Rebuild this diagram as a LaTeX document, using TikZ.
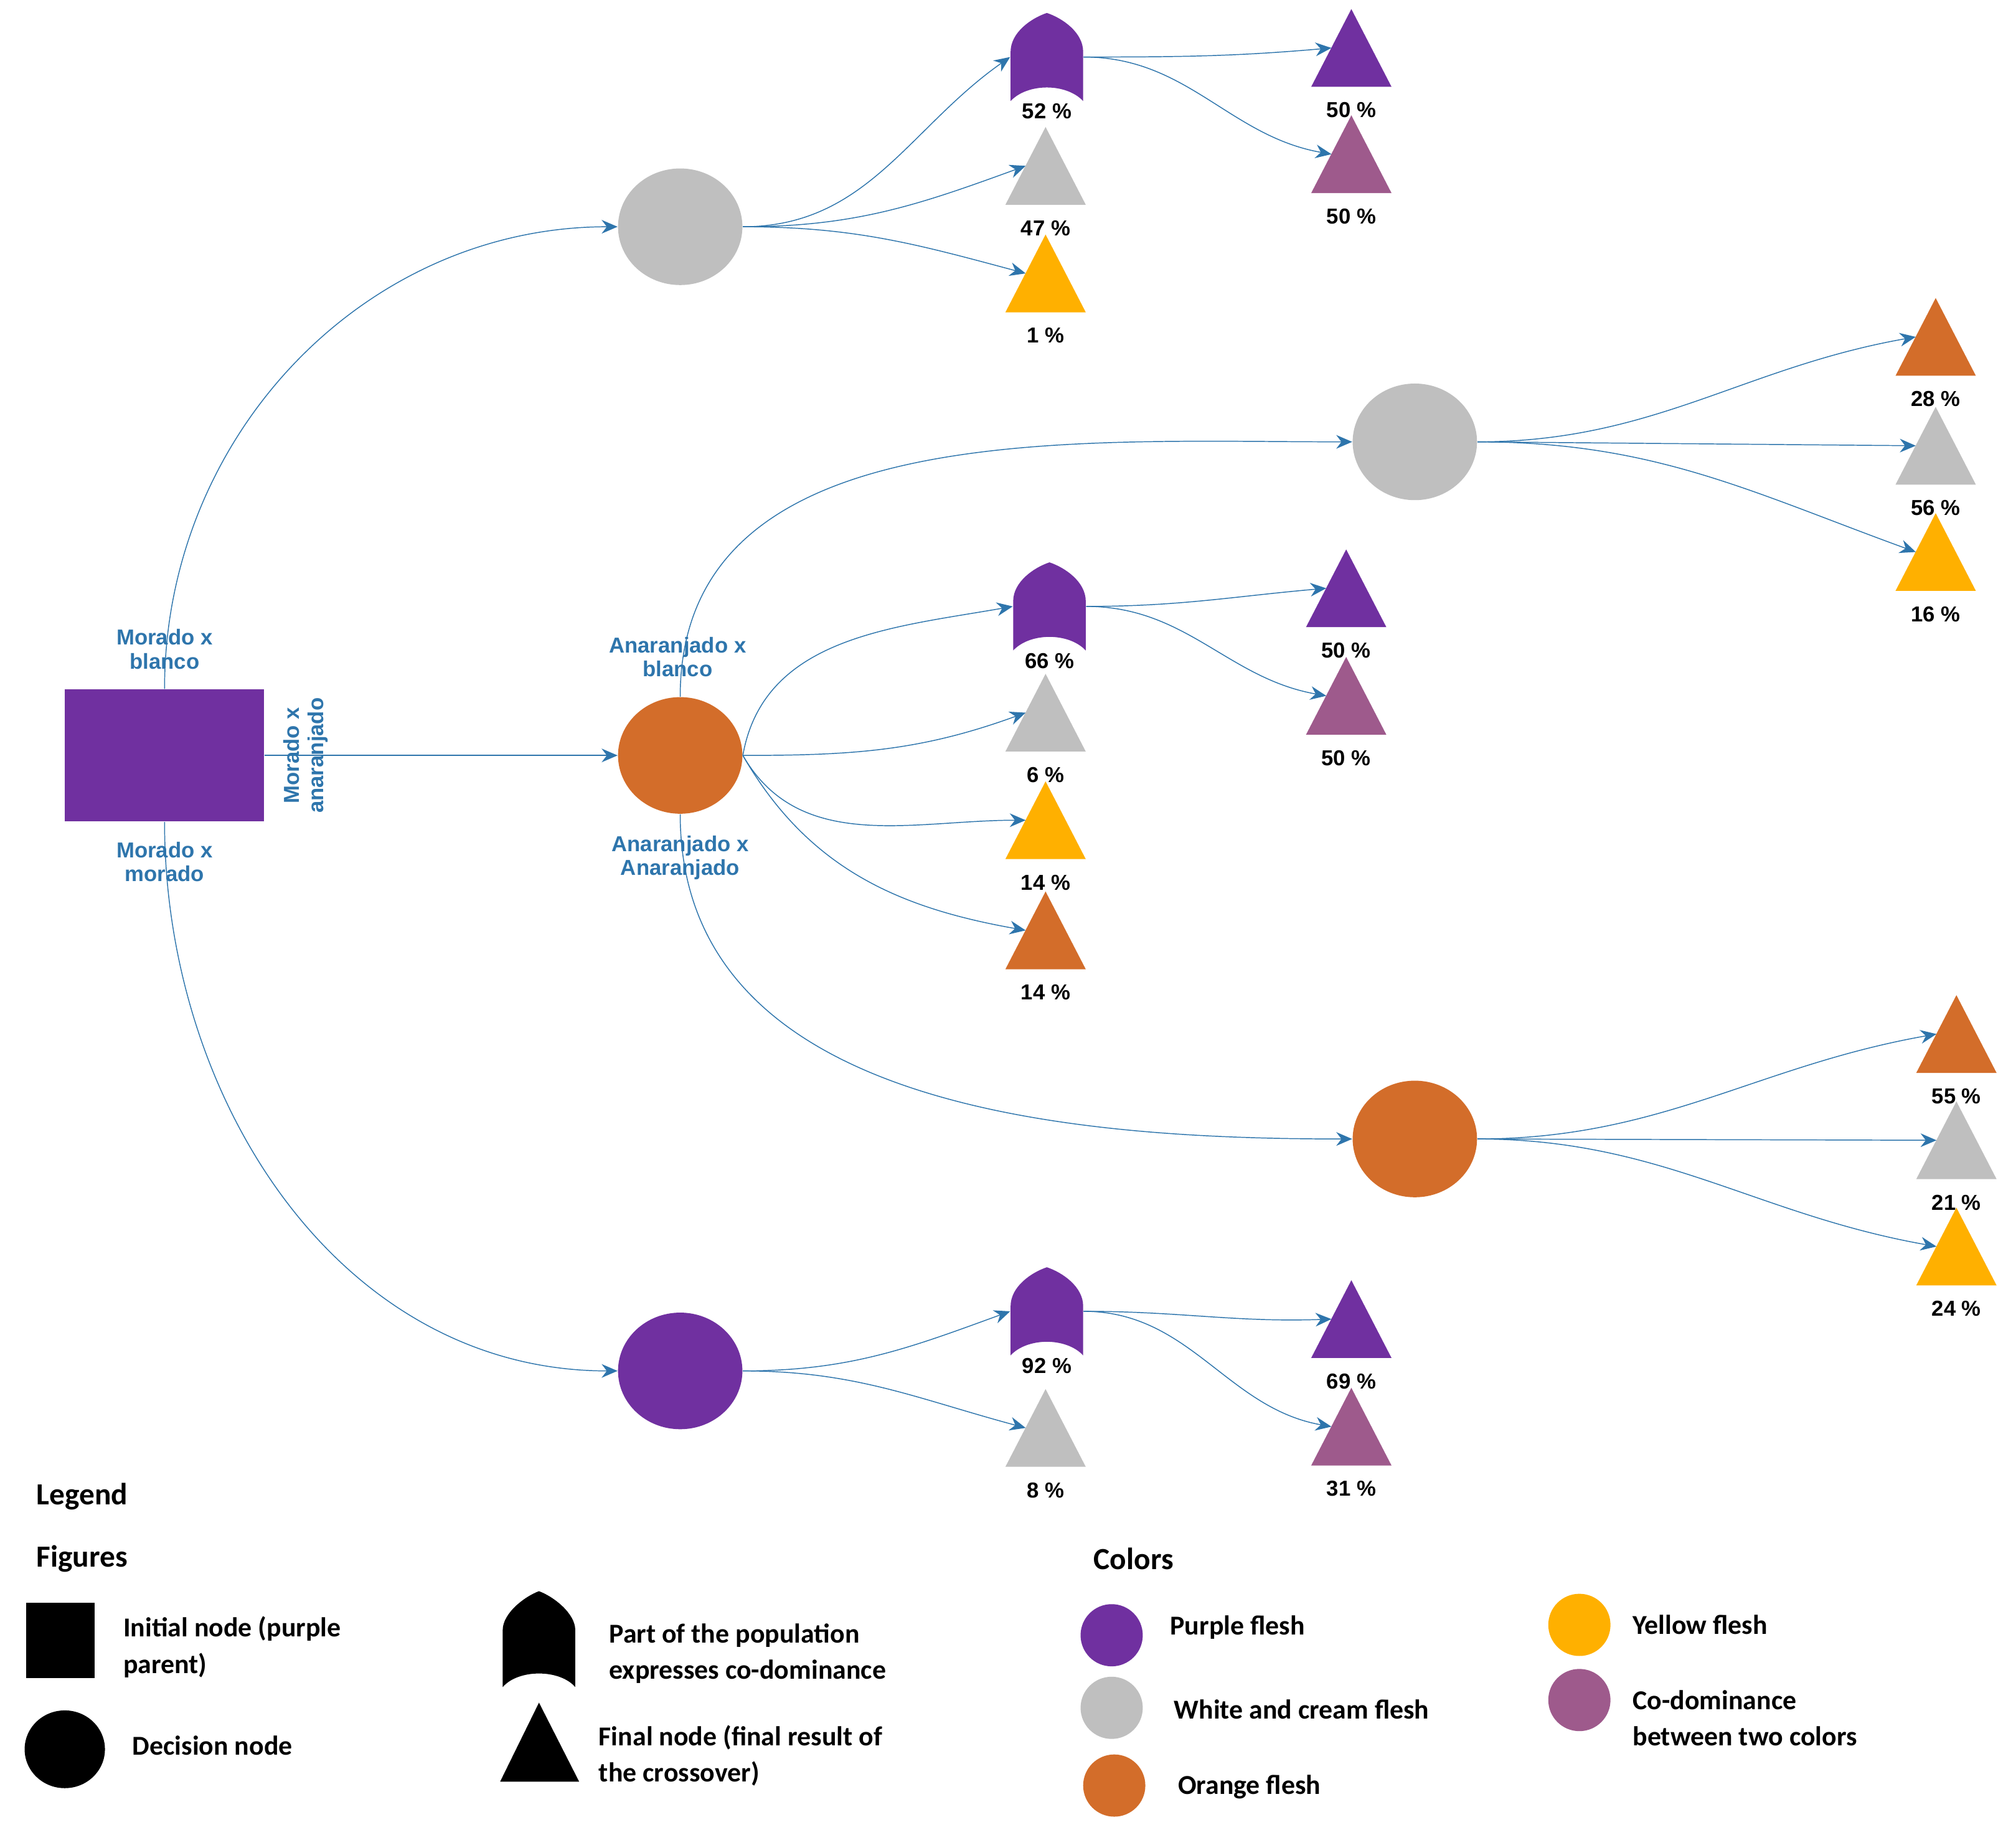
\documentclass[tikz,border=0pt]{standalone}
\usepackage{fontspec}
\setmainfont{Liberation Sans}
\newfontfamily\legfont{Carlito}
\usetikzlibrary{shapes.geometric,arrows.meta}
\definecolor{pur}{RGB}{112,48,160}
\definecolor{gry}{RGB}{191,191,191}
\definecolor{org}{RGB}{211,109,42}
\definecolor{yel}{RGB}{255,176,0}
\definecolor{mau}{RGB}{158,90,140}
\definecolor{edg}{RGB}{46,117,172}
\tikzset{
  pct/.style={font=\fontsize{9.5}{11}\selectfont\bfseries},
  blu/.style={font=\fontsize{9.5}{10.5}\selectfont\bfseries,text=edg,align=center},
  dec/.style={ellipse,inner sep=0,minimum width=1.92cm,minimum height=1.8cm},
  box/.style={inner sep=0,minimum width=0.6cm,minimum height=1.2cm},
  abox/.style={inner sep=0,minimum width=1.12cm,minimum height=1.36cm},
  e/.style={edg,-{Stealth[length=7pt,width=6pt]}},
  leg/.style={font=\legfont\fontsize{12}{16}\selectfont\bfseries,align=left,anchor=west},
}
% triangle: name, x, ytop, colour, label
\newcommand\tri[5]{%
  \node[box] (#1) at (#2,{#3+30}) {};
  \fill[#4] ({#2-31},{#3+60}) -- (#2,#3) -- ({#2+31},{#3+60}) -- cycle;
  \node[pct] (#1-l) at (#2,{#3+78}) {#5};}
% arch: name, x, ytop, label
\newcommand\arch[4]{%
  \node[abox] (#1) at (#2,{#3+34}) {};
  \fill[pur] ({#2-28},{#3+68}) -- ({#2-28},{#3+30}) .. controls ({#2-28},{#3+15}) and ({#2-12},{#3+4}) .. (#2,#3)
    .. controls ({#2+12},{#3+4}) and ({#2+28},{#3+15}) .. ({#2+28},{#3+30}) -- ({#2+28},{#3+68})
    .. controls ({#2+15},{#3+54}) and ({#2-15},{#3+54}) .. cycle;
  \node[pct] (#1-l) at (#2,{#3+76}) {#4};}
\begin{document}
\begin{tikzpicture}[x=0.02cm,y=-0.02cm]
\useasboundingbox (0,0) rectangle (1556,1416);
% initial and decision nodes
\node[fill=pur,inner sep=0,minimum width=3.08cm,minimum height=2.04cm] (sq) at (127,583) {};
\node[blu] (l1) at (127,501) {Morado x\\blanco};
\node[blu] (l2) at (127,665) {Morado x\\morado};
\node[blu,rotate=90] (l3) at (236,583) {Morado x\\anaranjado};
\node[dec,fill=gry] (g1) at (525,175) {};
\node[dec,fill=org] (o1) at (525,583) {};
\node[dec,fill=pur] (p1) at (525,1058) {};
\node[dec,fill=gry] (g2) at (1092,341) {};
\node[dec,fill=org] (o2) at (1092,879) {};
\node[blu] (l4) at (523,507) {Anaranjado x\\blanco};
\node[blu] (l5) at (525,662) {Anaranjado x\\Anaranjado};
% top branch
\arch{a1}{808}{10}{52 \%}
\tri{t1}{807}{98}{gry}{47 \%}
\tri{t2}{807}{181}{yel}{1 \%}
\tri{t3}{1043}{7}{pur}{50 \%}
\tri{t4}{1043}{89}{mau}{50 \%}
% middle branch
\arch{a2}{810}{434}{66 \%}
\tri{t5}{807}{520}{gry}{6 \%}
\tri{t6}{807}{603}{yel}{14 \%}
\tri{t7}{807}{688}{org}{14 \%}
\tri{t8}{1039}{424}{pur}{50 \%}
\tri{t9}{1039}{507}{mau}{50 \%}
% right branches
\tri{r1}{1494}{230}{org}{28 \%}
\tri{r2}{1494}{314}{gry}{56 \%}
\tri{r3}{1494}{396}{yel}{16 \%}
\tri{r4}{1510}{768}{org}{55 \%}
\tri{r5}{1510}{850}{gry}{21 \%}
\tri{r6}{1510}{932}{yel}{24 \%}
% bottom branch
\arch{a3}{808}{978}{92 \%}
\tri{t10}{807}{1072}{gry}{8 \%}
\tri{t11}{1043}{988}{pur}{69 \%}
\tri{t12}{1043}{1071}{mau}{31 \%}
% connectors
\draw[e] (sq.north) to[out=90,in=180] (g1.west);
\draw[e] (sq.south) to[out=-90,in=180] (p1.west);
\draw[e] (sq.east) -- (o1.west);
\draw[e] (o1.north) to[out=90,in=180] (g2.west);
\draw[e] (o1.south) to[out=-90,in=180] (o2.west);
\draw[e] (g1.east) to[out=0,in=215] (a1.west);
\draw[e] (g1.east) to[out=0,in=200] (t1.west);
\draw[e] (g1.east) to[out=0,in=165] (t2.west);
\draw[e] (a1.east) to[out=0,in=185] (t3.west);
\draw[e] (a1.east) to[out=0,in=170] (t4.west);
\draw[e] (o1.east) to[out=80,in=190] (a2.west);
\draw[e] (o1.east) to[out=0,in=200] (t5.west);
\draw[e] (o1.east) to[out=-60,in=180] (t6.west);
\draw[e] (o1.east) to[out=-60,in=170] (t7.west);
\draw[e] (a2.east) to[out=0,in=185] (t8.west);
\draw[e] (a2.east) to[out=0,in=170] (t9.west);
\draw[e] (g2.east) to[out=0,in=190] (r1.west);
\draw[e] (g2.east) -- (r2.west);
\draw[e] (g2.east) to[out=0,in=160] (r3.west);
\draw[e] (o2.east) to[out=0,in=190] (r4.west);
\draw[e] (o2.east) -- (r5.west);
\draw[e] (o2.east) to[out=0,in=170] (r6.west);
\draw[e] (p1.east) to[out=0,in=200] (a3.west);
\draw[e] (p1.east) to[out=0,in=165] (t10.west);
\draw[e] (a3.east) to[out=0,in=182] (t11.west);
\draw[e] (a3.east) to[out=0,in=170] (t12.west);
% legend
\node[leg,font=\legfont\fontsize{13.5}{16}\selectfont\bfseries] (lg) at (22,1155) {Legend};
\node[leg,font=\legfont\fontsize{13.5}{16}\selectfont\bfseries] (lf) at (22,1203) {Figures};
\node[leg,font=\legfont\fontsize{13.5}{16}\selectfont\bfseries] (lc) at (838,1203) {Colors};
\fill (20,1237) rectangle (73,1295);
\node[leg] (k1) at (89,1271) {Initial node (purple\\parent)};
\fill (50,1350) ellipse [x radius=31,y radius=30];
\node[leg] (k2) at (96,1347) {Decision node};
\fill (388,1302) -- (388,1258) .. controls (388,1245) and (405,1232) .. (416,1228)
  .. controls (427,1232) and (444,1245) .. (444,1258) -- (444,1302)
  .. controls (432,1288) and (400,1288) .. cycle;
\node[leg] (k3) at (464,1276) {Part of the population\\expresses co-dominance};
\fill (386,1375) -- (416,1314) -- (447,1375) -- cycle;
\node[leg] (k4) at (456,1355) {Final node (final result of\\the crossover)};
\fill[pur] (858,1262) circle (24);
\node[leg] (c1) at (897,1256) {Purple flesh};
\fill[gry] (858,1318) circle (24);
\node[leg] (c2) at (900,1319) {White and cream flesh};
\fill[org] (860,1378) circle (24);
\node[leg] (c3) at (903,1379) {Orange flesh};
\fill[yel] (1219,1254) circle (24);
\node[leg] (c4) at (1254,1254) {Yellow flesh};
\fill[mau] (1219,1312) circle (24);
\node[leg] (c5) at (1254,1326) {Co-dominance\\between two colors};
\end{tikzpicture}
\end{document}
